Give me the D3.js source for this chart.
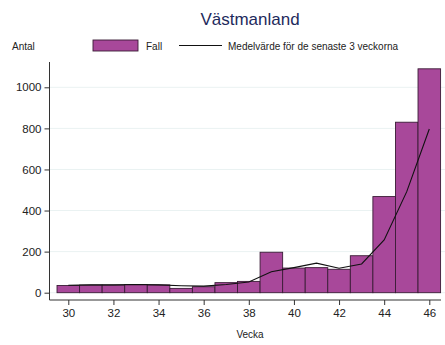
<!DOCTYPE html>
<html>
<head>
<meta charset="utf-8">
<script src="https://cdn.jsdelivr.net/npm/d3@7"></script>
<style>
  html, body { margin: 0; padding: 0; background: #fff; }
  svg { display: block; font-family: "Liberation Sans", Arial, sans-serif; }
</style>
</head>
<body>
<svg id="chart" width="445" height="345"></svg>
<script>
// Weekly case counts for Västmanland
const weeks = [30, 31, 32, 33, 34, 35, 36, 37, 38, 39, 40, 41, 42, 43, 44, 45, 46];
const cases = [35, 37, 37, 40, 38, 21, 29, 49, 55, 197, 120, 122, 114, 180, 468, 830, 1090];
// Rolling mean over the last 3 weeks
const rollingMean = [36, 38, 38, 40, 38, 34, 32, 40, 52, 102, 122, 144, 119, 140, 257, 492, 797];

const yTicks = [0, 200, 400, 600, 800, 1000];
const xTicks = [30, 32, 34, 36, 38, 40, 42, 44, 46];

const svg = d3.select("#chart");

const x = d3.scaleLinear().domain([30, 46]).range([68.3, 429.3]);
const y = d3.scaleLinear().domain([0, 1000]).range([292.7, 87.3]);
const barW = x(31) - x(30);

const axisY = 300, axisX = 49.5;

// Gridlines
svg.append("g")
  .selectAll("line")
  .data(yTicks)
  .join("line")
  .attr("x1", axisX).attr("x2", 445)
  .attr("y1", d => y(d)).attr("y2", d => y(d))
  .attr("stroke", "#eaf2f2").attr("stroke-width", 1);

// Bars
svg.append("g")
  .selectAll("rect")
  .data(weeks)
  .join("rect")
  .attr("x", (d) => x(d) - barW / 2)
  .attr("width", barW)
  .attr("y", (d, i) => y(cases[i]))
  .attr("height", (d, i) => y(0) - y(cases[i]))
  .attr("fill", "#a8489a")
  .attr("stroke", "#3a1c36")
  .attr("stroke-width", 0.9);

// Rolling mean line
const line = d3.line()
  .x((d, i) => x(weeks[i]))
  .y(d => y(d));
svg.append("path")
  .datum(rollingMean)
  .attr("d", line)
  .attr("fill", "none")
  .attr("stroke", "#111")
  .attr("stroke-width", 1.1);

// Y axis
const yAxis = d3.axisLeft(y).tickValues(yTicks).tickFormat(d3.format("d")).tickSize(5).tickPadding(3);
const gy = svg.append("g").attr("transform", `translate(${axisX},0)`).call(yAxis);
gy.select(".domain").remove();
gy.append("line").attr("x1", 0).attr("x2", 0).attr("y1", 62).attr("y2", axisY)
  .attr("stroke", "#333").attr("stroke-width", 1);
gy.selectAll(".tick line").attr("stroke", "#333");
gy.selectAll(".tick text").attr("font-size", 11.5).attr("fill", "#222")
  .attr("font-family", "Liberation Sans, Arial, sans-serif");

// X axis
const xAxis = d3.axisBottom(x).tickValues(xTicks).tickSize(5).tickPadding(4);
const gx = svg.append("g").attr("transform", `translate(0,${axisY})`).call(xAxis);
gx.select(".domain").remove();
gx.append("line").attr("x1", axisX).attr("x2", 441).attr("y1", 0).attr("y2", 0)
  .attr("stroke", "#333").attr("stroke-width", 1);
gx.selectAll(".tick line").attr("stroke", "#333");
gx.selectAll(".tick text").attr("font-size", 11.5).attr("fill", "#222")
  .attr("font-family", "Liberation Sans, Arial, sans-serif");

// Axis titles
svg.append("text").attr("x", 250).attr("y", 338).attr("text-anchor", "middle")
  .attr("font-size", 10).attr("fill", "#222").text("Vecka");
svg.append("text").attr("x", 12).attr("y", 50)
  .attr("font-size", 10).attr("fill", "#222").text("Antal");

// Title
svg.append("text").attr("x", 250).attr("y", 25).attr("text-anchor", "middle")
  .attr("font-size", 17).attr("fill", "#1e2a5c").text("Västmanland");

// Legend
svg.append("rect").attr("x", 93).attr("y", 40).attr("width", 45).attr("height", 11)
  .attr("fill", "#a8489a").attr("stroke", "#3a1c36").attr("stroke-width", 0.9);
svg.append("text").attr("x", 146).attr("y", 50).attr("font-size", 10).attr("fill", "#222").text("Fall");
svg.append("line").attr("x1", 179).attr("x2", 222).attr("y1", 45.5).attr("y2", 45.5)
  .attr("stroke", "#111").attr("stroke-width", 1.1);
svg.append("text").attr("x", 228).attr("y", 50).attr("font-size", 10).attr("fill", "#222")
  .text("Medelvärde för de senaste 3 veckorna");
</script>
</body>
</html>
